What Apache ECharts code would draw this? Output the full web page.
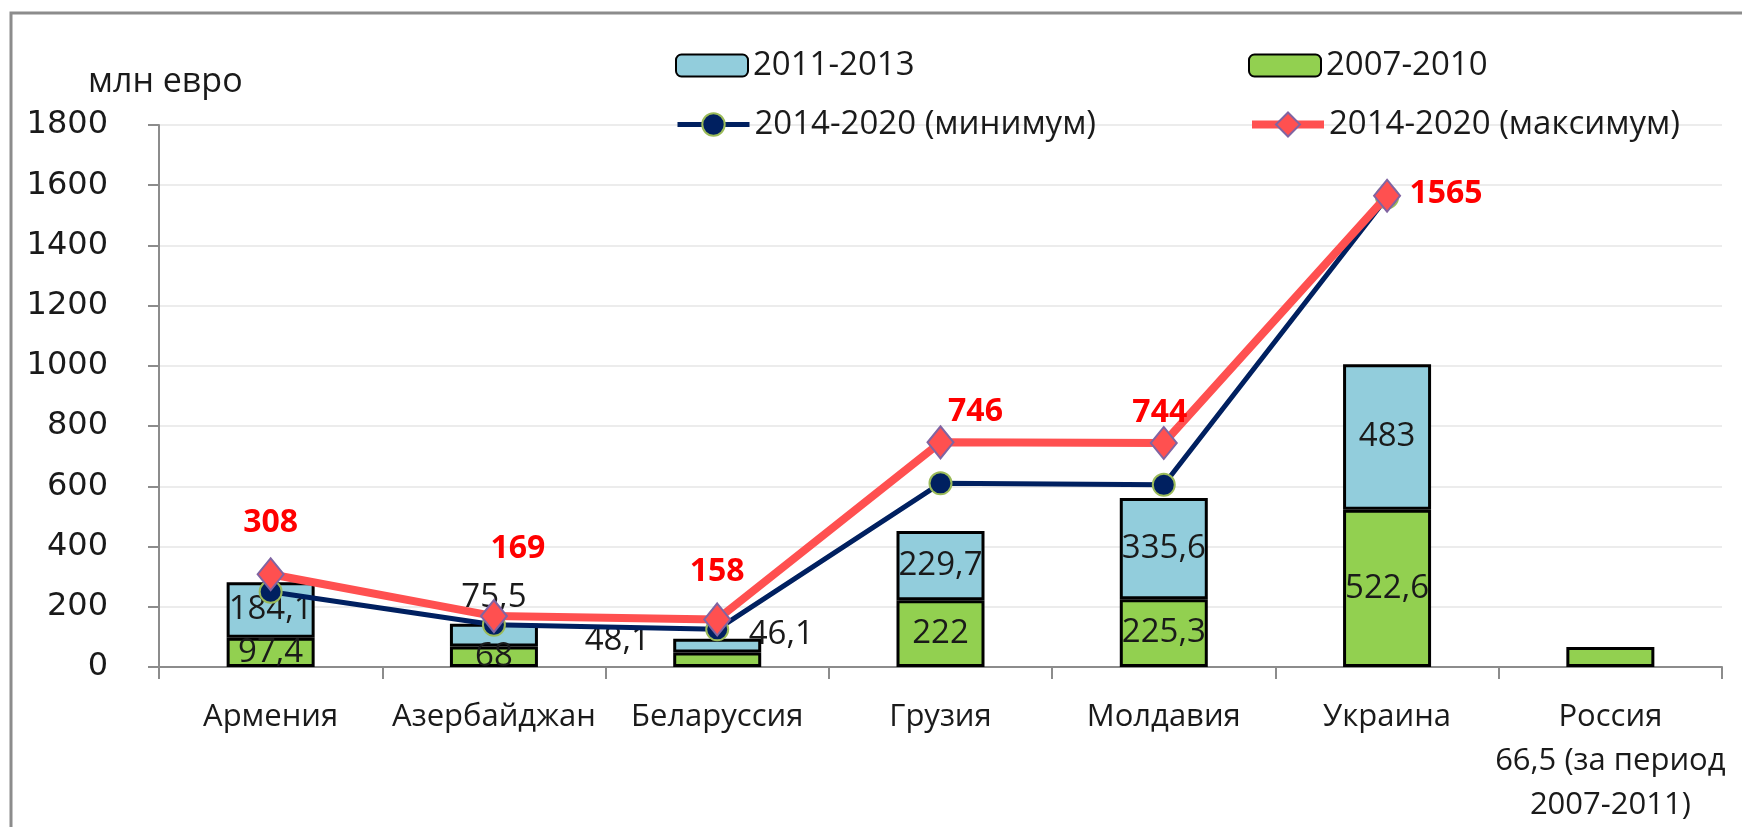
<!DOCTYPE html>
<html>
<head>
<meta charset="utf-8">
<script src="https://cdn.jsdelivr.net/npm/echarts@6/dist/echarts.min.js"></script>
<style>
  html, body { margin: 0; padding: 0; background: #fff; }
  #chart { width: 1742px; height: 827px; }
</style>
</head>
<body>
<div id="chart"></div>
<script>
// данные
const categories = ['Армения', 'Азербайджан', 'Беларуссия', 'Грузия', 'Молдавия', 'Украина', 'Россия\n66,5 (за период\n2007-2011)'];
const v2007 = [97.4, 68, 48.1, 222, 225.3, 522.6, 66.5];
const v2011 = [184.1, 75.5, 46.1, 229.7, 335.6, 483, null];
const minVals = [250, 140, 125, 610, 605, 1560, null];
const maxVals = [308, 169, 158, 746, 744, 1565, null];
const yTicks = [0, 200, 400, 600, 800, 1000, 1200, 1400, 1600, 1800];

const font = "'Open Sans', sans-serif";
const fmt = (v) => String(v).replace('.', ',');

// подписи: смещения
const label2007 = [null, null, { offset: [-100, -19] }, null, null, null, { show: false }];
const label2011 = [null, { offset: [0, -38] }, { offset: [64, -11] }, null, null, null, null];
const labelMax = [[0, -51], [24, -67], [0, -48], [35, -30], [-4, -30], [59, -2], null];

const chart = echarts.init(document.getElementById('chart'));

const legendText = { fontSize: 33, color: '#1a1a1a', fontFamily: font };
// легенда: 2 строки x 2 столбца
function mkLegend(left, top, h, item) {
  return {
    left, top, itemWidth: 72, itemHeight: h, textStyle: legendText, data: [item],
  };
}

const option = {
  animation: false,
  textStyle: { fontFamily: font },
  graphic: [{
    type: 'rect',
    shape: { x: 11, y: 13, width: 1800, height: 900 },
    style: { fill: 'none', stroke: '#8c8c8c', lineWidth: 3 },
  }, {
    type: 'text',
    left: 88,
    top: 65,
    style: { text: 'млн евро', font: '34px ' + font, fill: '#1a1a1a' },
  }],
  legend: [
    mkLegend(670, 44, 22, '2011-2013'),
    mkLegend(1243, 44, 22, '2007-2010'),
    mkLegend(670, 103, 28, { name: '2014-2020 (минимум)', lineStyle: { width: 5 } }),
    mkLegend(1243, 103, 30, { name: '2014-2020 (максимум)', lineStyle: { width: 8 } }),
  ],
  grid: { left: 159, right: 20, top: 125, bottom: 157 },
  xAxis: {
    type: 'category',
    data: categories,
    axisLine: { lineStyle: { color: '#8c8c8c', width: 2 } },
    axisTick: { show: true, length: 12, lineStyle: { color: '#8c8c8c', width: 2 } },
    axisLabel: {
      interval: 0, fontSize: 31, color: '#1a1a1a', margin: 28, lineHeight: 44, fontFamily: font,
    },
  },
  yAxis: {
    type: 'value',
    min: 0,
    max: 1800,
    interval: 200,
    axisLine: { show: true, lineStyle: { color: '#8c8c8c', width: 2 } },
    axisTick: { show: true, length: 11, lineStyle: { color: '#8c8c8c', width: 2 } },
    axisLabel: {
      fontSize: 32, color: '#1a1a1a', margin: 51, fontFamily: 'DejaVu Sans',
      formatter: (v) => (yTicks.includes(v) ? String(v) : ''),
    },
    splitLine: { lineStyle: { color: '#ececec', width: 2 } },
  },
  series: [{
    name: '2007-2010',
    type: 'bar',
    stack: 'total',
    barWidth: 88,
    itemStyle: { color: '#92D050', borderColor: '#000', borderWidth: 3 },
    label: {
      show: true, position: 'inside', fontSize: 33, color: '#1a1a1a', fontFamily: font,
      formatter: (p) => fmt(p.value),
    },
    data: v2007.map((v, i) => (label2007[i] ? { value: v, label: label2007[i] } : v)),
  }, {
    name: '2011-2013',
    type: 'bar',
    stack: 'total',
    barWidth: 88,
    itemStyle: { color: '#92CDDC', borderColor: '#000', borderWidth: 3 },
    label: {
      show: true, position: 'inside', fontSize: 33, color: '#1a1a1a', fontFamily: font,
      formatter: (p) => (p.value == null ? '' : fmt(p.value)),
    },
    data: v2011.map((v, i) => (label2011[i] ? { value: v, label: label2011[i] } : v)),
  }, {
    name: '2014-2020 (минимум)',
    type: 'line',
    symbol: 'circle',
    symbolSize: 22,
    z: 3,
    lineStyle: { color: '#002060', width: 5 },
    itemStyle: { color: '#002060', borderColor: '#9BBB59', borderWidth: 2 },
    data: minVals,
  }, {
    name: '2014-2020 (максимум)',
    type: 'line',
    symbol: 'diamond',
    symbolSize: [26, 32],
    z: 4,
    lineStyle: { color: '#FF5050', width: 8 },
    itemStyle: { color: '#FF5050', borderColor: '#8064A2', borderWidth: 2 },
    label: {
      show: true, position: 'inside', fontSize: 32, fontWeight: 'bold', color: '#FF0000', fontFamily: font,
    },
    data: maxVals.map((v, i) => ({ value: v, label: labelMax[i] ? { offset: labelMax[i] } : { show: false } })),
  }],
};

chart.setOption(option);
window.addEventListener('resize', () => {
  chart.resize();
});
</script>
</body>
</html>
